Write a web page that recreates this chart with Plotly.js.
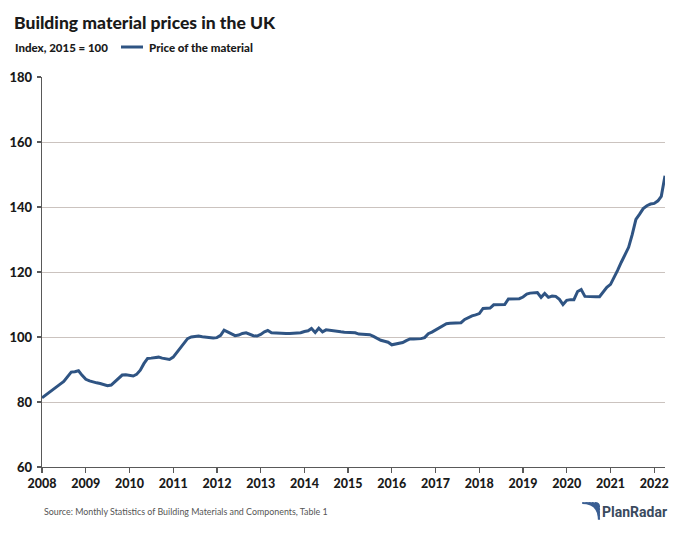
<!DOCTYPE html>
<html>
<head>
<meta charset="utf-8">
<script src="https://cdn.plot.ly/plotly-3.0.1.min.js"></script>
<style>
  html, body { margin: 0; padding: 0; background: #ffffff; }
  #chart { width: 700px; height: 533px; }
</style>
</head>
<body>
<div id="chart"></div>
<script>
// Monthly index values (2015 = 100), January 2008 to April 2022
const startYear = 2008;
const values2008 = [81.3, 82.2, 83.0, 83.8, 84.6, 85.5, 86.3, 87.8, 89.2, 89.3, 89.6, 88.2];
const values2009 = [87.0, 86.5, 86.1, 85.9, 85.7, 85.4, 85.0, 85.2, 86.3, 87.2, 88.3, 88.4];
const values2010 = [88.1, 88.0, 88.5, 89.8, 91.8, 93.4, 93.5, 93.7, 93.8, 93.5, 93.3, 93.1];
const values2011 = [93.8, 95.2, 96.7, 98.2, 99.5, 100.0, 100.2, 100.3, 100.1, 99.9, 99.7, 99.7];
const values2012 = [99.8, 100.5, 102.1, 101.6, 100.9, 100.4, 100.6, 101.1, 101.3, 100.8, 100.4, 100.3];
const values2013 = [100.8, 101.6, 102.0, 101.3, 101.2, 101.2, 101.1, 101.1, 101.1, 101.1, 101.2, 101.3];
const values2014 = [101.7, 101.9, 102.6, 101.4, 102.7, 101.6, 102.2, 102.0, 101.9, 101.8, 101.6, 101.5];
const values2015 = [101.4, 101.4, 101.3, 100.9, 100.8, 100.9, 100.7, 100.2, 99.6, 99.0, 98.7, 98.4];
const values2016 = [97.6, 97.8, 98.0, 98.3, 98.9, 99.4, 99.4, 99.4, 99.5, 99.8, 101.0, 101.5];
const values2017 = [102.2, 103.0, 103.5, 104.1, 104.2, 104.2, 104.3, 104.4, 105.4, 106.0, 106.5, 106.8];
const values2018 = [107.2, 108.8, 108.8, 108.9, 109.9, 109.9, 110.0, 110.0, 111.7, 111.7, 111.7, 111.8];
const values2019 = [112.3, 113.2, 113.5, 113.7, 113.7, 112.2, 113.4, 112.2, 112.6, 112.5, 111.6, 110.0];
const values2020 = [111.3, 111.5, 111.5, 114.0, 114.6, 112.5, 112.4, 112.4, 112.4, 112.4, 113.8, 115.3];
const values2021 = [116.2, 118.3, 120.5, 123.0, 125.3, 127.6, 131.5, 136.2, 137.8, 139.5, 140.4, 140.9];
const values2022 = [141.1, 141.9, 143.3, 149.6];

const yearTicks = ["2008","2009","2010","2011","2012","2013","2014","2015","2016","2017","2018","2019","2020","2021","2022"];
const yTicks = [60, 80, 100, 120, 140, 160, 180];

const allValues = [].concat(values2008, values2009, values2010, values2011, values2012,
  values2013, values2014, values2015, values2016, values2017, values2018, values2019,
  values2020, values2021, values2022);
const dates = allValues.map((v, i) => {
  const y = startYear + Math.floor(i / 12);
  const m = (i % 12) + 1;
  return y + "-" + String(m).padStart(2, "0") + "-01";
});

const FONT = "Lato, 'Open Sans', 'DejaVu Sans', sans-serif";
const LINE = "#2f5483";

// layout geometry in pixels -> paper coords
const L = 42, R = 35, T = 77, B = 66, W = 700, H = 533;
const pw = W - L - R, ph = H - T - B;
const px = x => (x - L) / pw;
const py = y => (H - B - y) / ph;

const trace = {
  x: dates,
  y: allValues,
  type: "scatter",
  mode: "lines",
  line: { color: LINE, width: 3, shape: "linear" },
  hoverinfo: "skip",
  showlegend: false
};

const annotations = [
  { text: "Building material prices in the UK", x: px(12), y: py(22), xref: "paper", yref: "paper",
    xanchor: "left", yanchor: "middle", showarrow: false, font: { family: FONT, size: 17.5, color: "#1a1a1a", weight: 900 } },
  { text: "Index, 2015 = 100", x: px(13), y: py(47), xref: "paper", yref: "paper",
    xanchor: "left", yanchor: "middle", showarrow: false, font: { family: FONT, size: 11.5, color: "#1a1a1a", weight: 900 } },
  { text: "Price of the material", x: px(147), y: py(47), xref: "paper", yref: "paper",
    xanchor: "left", yanchor: "middle", showarrow: false, font: { family: FONT, size: 11.5, color: "#1a1a1a", weight: 900 } },
  { text: "Source: Monthly Statistics of Building Materials and Components, Table 1", x: px(42), y: py(511), xref: "paper", yref: "paper",
    xanchor: "left", yanchor: "middle", showarrow: false, font: { family: FONT, size: 8.9, color: "#555555" } },
  { text: "PlanRadar", x: px(600), y: py(512), xref: "paper", yref: "paper",
    xanchor: "left", yanchor: "middle", showarrow: false, font: { family: "Roboto, sans-serif", size: 14, color: "#3a4a5e", weight: "bold" } }
];

// legend sample line and PlanRadar logo icon (stacked arcs)
const shapes = [
  { type: "line", xref: "paper", yref: "paper", x0: px(121), x1: px(143), y0: py(47), y1: py(47),
    line: { color: LINE, width: 3 } }
];
const iconX = 585, iconY = 503;
for (let k = 0; k < 5; k++) {
  const r = 4 + k * 3.2;
  const path = `M ${px(iconX + 14 - r)} ${py(iconY)} Q ${px(iconX + 14)} ${py(iconY)} ${px(iconX + 14)} ${py(iconY + r)}`;
  shapes.push({ type: "path", xref: "paper", yref: "paper", path: path,
    line: { color: "#3b5f93", width: 2.2 } });
}

const layout = {
  width: W, height: H,
  margin: { l: L, r: R, t: T, b: B, pad: 0 },
  paper_bgcolor: "#ffffff",
  plot_bgcolor: "#ffffff",
  showlegend: false,
  xaxis: {
    type: "date",
    range: ["2008-01-01", "2022-04-01"],
    tickmode: "array",
    tickvals: yearTicks.map(y => y + "-01-01"),
    ticktext: yearTicks,
    showgrid: false,
    zeroline: false,
    showline: true,
    linecolor: "#595959",
    linewidth: 1.3,
    ticks: "outside",
    ticklen: 5,
    tickcolor: "#595959",
    tickwidth: 1.3,
    tickfont: { family: FONT, size: 12.5, color: "#1a1a1a", weight: 900 },
    fixedrange: true
  },
  yaxis: {
    range: [60, 180],
    tickmode: "array",
    tickvals: yTicks,
    ticktext: yTicks.map(String),
    showgrid: true,
    gridcolor: "#cbc3bf",
    gridwidth: 1,
    zeroline: false,
    showline: true,
    linecolor: "#595959",
    linewidth: 1.3,
    ticks: "outside",
    ticklen: 4,
    tickcolor: "#595959",
    tickwidth: 1.3,
    ticklabelstandoff: 2,
    tickfont: { family: FONT, size: 13, color: "#1a1a1a", weight: 900 },
    fixedrange: true
  },
  annotations: annotations,
  shapes: shapes
};

Plotly.newPlot("chart", [trace], layout, { staticPlot: true, displayModeBar: false });
</script>
</body>
</html>
